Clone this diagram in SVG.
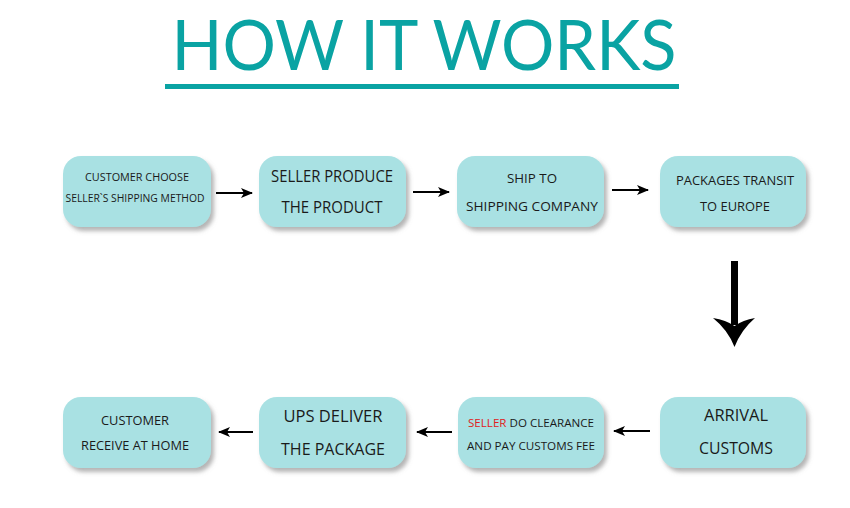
<svg xmlns="http://www.w3.org/2000/svg" width="850" height="508" viewBox="0 0 850 508">
<defs>
<style>
.box{fill:#a9e1e3;filter:url(#sh)}
.t{font-family:"Open Sans","Liberation Sans",sans-serif;fill:#1a1a1a;text-anchor:middle}
.s{font-size:11px}
.m{font-size:13px}
.l{font-size:15.5px}
.ar{stroke:#000;stroke-width:2.2;fill:none}
</style>
<filter id="sh" x="-10%" y="-10%" width="130%" height="140%">
<feDropShadow dx="3" dy="4" stdDeviation="2.2" flood-color="#777" flood-opacity="0.55"/>
</filter>
<marker id="ah" viewBox="0 0 12 10" refX="11" refY="5" markerWidth="12" markerHeight="10" markerUnits="userSpaceOnUse" orient="auto">
<path d="M0,0 L12,5 L0,10 L3,5 Z" fill="#000"/>
</marker>
</defs>
<rect width="850" height="508" fill="#fff"/>
<g id="title">
<text x="424" y="70" font-family="Lato,Open Sans,Liberation Sans,sans-serif" font-size="70" fill="#0aa3a3" text-anchor="middle" textLength="505" lengthAdjust="spacingAndGlyphs">HOW IT WORKS</text>
<rect x="165" y="84" width="514" height="5" fill="#0aa3a3"/>
</g>
<g id="n1"><rect class="box" x="63" y="156" width="148" height="71" rx="18"/>
<text class="t s" x="137" y="181" textLength="104" lengthAdjust="spacingAndGlyphs">CUSTOMER CHOOSE</text>
<text class="t s" x="135" y="202" textLength="139" lengthAdjust="spacingAndGlyphs">SELLER`S SHIPPING METHOD</text></g>
<g id="n2"><rect class="box" x="259" y="156" width="147" height="71" rx="18"/>
<text class="t l" x="332" y="182" textLength="122" lengthAdjust="spacingAndGlyphs">SELLER PRODUCE</text>
<text class="t l" x="332" y="213" textLength="101" lengthAdjust="spacingAndGlyphs">THE PRODUCT</text></g>
<g id="n3"><rect class="box" x="457" y="156" width="147" height="71" rx="18"/>
<text class="t m" x="532" y="183" textLength="50" lengthAdjust="spacingAndGlyphs">SHIP TO</text>
<text class="t m" x="532" y="211" textLength="132" lengthAdjust="spacingAndGlyphs">SHIPPING COMPANY</text></g>
<g id="n4"><rect class="box" x="660" y="156" width="146" height="71" rx="18"/>
<text class="t m" x="735" y="185" textLength="118" lengthAdjust="spacingAndGlyphs">PACKAGES TRANSIT</text>
<text class="t m" x="735" y="211" textLength="70" lengthAdjust="spacingAndGlyphs">TO EUROPE</text></g>
<g id="n8"><rect class="box" x="660" y="397" width="146" height="71" rx="18"/>
<text class="t l" x="736" y="421" textLength="64" lengthAdjust="spacingAndGlyphs">ARRIVAL</text>
<text class="t l" x="736" y="454" textLength="74" lengthAdjust="spacingAndGlyphs">CUSTOMS</text></g>
<g id="n7"><rect class="box" x="458" y="397" width="146" height="71" rx="18"/>
<text class="t s" x="531" y="427" textLength="126" lengthAdjust="spacingAndGlyphs"><tspan fill="#e02020">SELLER</tspan> DO CLEARANCE</text>
<text class="t s" x="531" y="450" textLength="128" lengthAdjust="spacingAndGlyphs">AND PAY CUSTOMS FEE</text></g>
<g id="n6"><rect class="box" x="259" y="397" width="147" height="71" rx="18"/>
<text class="t l" x="333" y="422" textLength="99" lengthAdjust="spacingAndGlyphs">UPS DELIVER</text>
<text class="t l" x="333" y="455" textLength="104" lengthAdjust="spacingAndGlyphs">THE PACKAGE</text></g>
<g id="n5"><rect class="box" x="63" y="397" width="148" height="71" rx="18"/>
<text class="t m" x="135" y="425" textLength="68" lengthAdjust="spacingAndGlyphs">CUSTOMER</text>
<text class="t m" x="135" y="450" textLength="108" lengthAdjust="spacingAndGlyphs">RECEIVE AT HOME</text></g>
<g id="connectors">
<line class="ar" x1="216" y1="193" x2="252" y2="193" marker-end="url(#ah)"/>
<line class="ar" x1="413" y1="192" x2="449" y2="192" marker-end="url(#ah)"/>
<line class="ar" x1="612" y1="190" x2="648" y2="190" marker-end="url(#ah)"/>
<rect x="731" y="261" width="7" height="64" fill="#000"/>
<path d="M734.5,347 Q728,330 713,318 Q726,320 734.5,326 Q743,320 755,318 Q741,330 734.5,347 Z" fill="#000"/>
<line class="ar" x1="650" y1="431" x2="614" y2="431" marker-end="url(#ah)"/>
<line class="ar" x1="452" y1="432" x2="417" y2="432" marker-end="url(#ah)"/>
<line class="ar" x1="253" y1="432" x2="219" y2="432" marker-end="url(#ah)"/>
</g>
</svg>
